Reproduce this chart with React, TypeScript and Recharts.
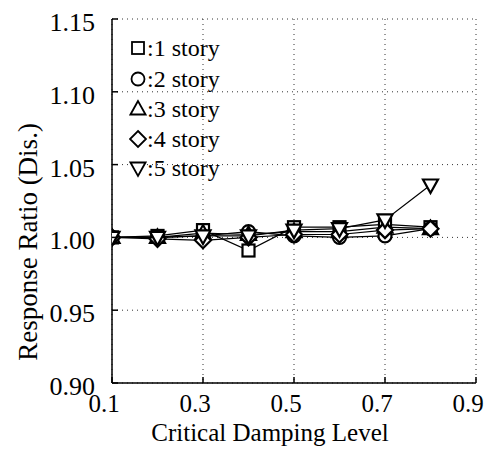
import { CartesianGrid, Label, Line, LineChart, XAxis, YAxis } from 'recharts'

// critical damping levels and response ratios
const damping = [0.1, 0.2, 0.3, 0.4, 0.5, 0.6, 0.7, 0.8]
const story1 = [1.0, 1.001, 1.005, 0.991, 1.007, 1.007, 1.009, 1.007]
const story2 = [1.0, 1.0, 1.001, 1.004, 1.001, 1.0, 1.001, 1.006]
const story3 = [1.0, 1.0, 1.003, 1.002, 1.004, 1.004, 1.007, 1.006]
const story4 = [1.0, 0.999, 0.998, 1.0, 1.002, 1.002, 1.005, 1.006]
const story5 = [1.0, 1.0, 1.001, 1.001, 1.005, 1.006, 1.012, 1.036]

const xTicks = [0.1, 0.3, 0.5, 0.7, 0.9]
const yTicks = [0.9, 0.95, 1.0, 1.05, 1.1, 1.15]
const legendNames = [':1 story', ':2 story', ':3 story', ':4 story', ':5 story']
const shapes = ['square', 'circle', 'up', 'diamond', 'down']

const data = damping.map((d, i) => ({
  d,
  s1: story1[i],
  s2: story2[i],
  s3: story3[i],
  s4: story4[i],
  s5: story5[i],
}))

const font = "'Liberation Serif', 'Times New Roman', serif"

const Marker = ({ shape, cx, cy, sw = 2.2 }: any) => {
  const st = { stroke: '#000', strokeWidth: sw, fill: '#fff' }
  if (shape === 'square') return <rect x={cx - 6} y={cy - 6} width={12} height={12} {...st} />
  if (shape === 'circle') return <circle cx={cx} cy={cy} r={6.5} {...st} />
  if (shape === 'up')
    return <polygon points={`${cx},${cy - 8} ${cx - 7.5},${cy + 5.5} ${cx + 7.5},${cy + 5.5}`} {...st} />
  if (shape === 'diamond')
    return <polygon points={`${cx},${cy - 8} ${cx + 8},${cy} ${cx},${cy + 8} ${cx - 8},${cy}`} {...st} />
  return <polygon points={`${cx - 7.5},${cy - 5.5} ${cx + 7.5},${cy - 5.5} ${cx},${cy + 8}`} {...st} />
}

const dotFor = (shape: string) => (p: any) => {
  if (p.cx == null || p.cy == null) return <g key={p.index} />
  return (
    <g key={p.index}>
      <Marker shape={shape} cx={p.cx} cy={p.cy} />
    </g>
  )
}

const BottomTick = (p: any) => (
  <g>
    <line x1={p.x} x2={p.x} y1={p.y} y2={p.y - 6} stroke="#000" strokeWidth={1.5} />
    <text x={p.x - 8} y={p.y + 29} textAnchor="middle" fontSize={25} fontFamily={font} fill="#000">
      {Number(p.payload.value).toFixed(1)}
    </text>
  </g>
)

const TopTick = (p: any) => (
  <line x1={p.x} x2={p.x} y1={p.y} y2={p.y + 6} stroke="#000" strokeWidth={1.5} />
)

const LeftTick = (p: any) => (
  <g>
    <line x1={p.x} x2={p.x + 6} y1={p.y} y2={p.y} stroke="#000" strokeWidth={1.5} />
    <text x={p.x - 17} y={p.y + 12} textAnchor="end" fontSize={26} fontFamily={font} fill="#000">
      {Number(p.payload.value).toFixed(2)}
    </text>
  </g>
)

const RightTick = (p: any) => (
  <line x1={p.x} x2={p.x - 6} y1={p.y} y2={p.y} stroke="#000" strokeWidth={1.5} />
)

const series = [
  { key: 's1', shape: 'square' },
  { key: 's2', shape: 'circle' },
  { key: 's3', shape: 'up' },
  { key: 's4', shape: 'diamond' },
  { key: 's5', shape: 'down' },
]

const rowTops = [40, 71, 101, 131, 160]

export default function App() {
  return (
    <div style={{ position: 'relative', width: 484, height: 455 }}>
      <LineChart width={484} height={455} data={data} margin={{ top: 11, right: 16, left: 0, bottom: 0 }}>
        <CartesianGrid stroke="#333" strokeDasharray="1 4" />
        <XAxis
          type="number"
          dataKey="d"
          domain={[0.1, 0.9]}
          ticks={xTicks}
          interval={0}
          height={80}
          tickSize={0}
          tickMargin={0}
          tickLine={false}
          tick={BottomTick}
          axisLine={{ stroke: '#000', strokeWidth: 1.5 }}
          allowDataOverflow
        >
          <Label
            content={() => (
              <text x={262} y={433} textAnchor="middle" fontSize={25} fontFamily={font} fill="#000">
                Critical Damping Level
              </text>
            )}
          />
        </XAxis>
        <XAxis
          xAxisId="top"
          orientation="top"
          type="number"
          dataKey="d"
          domain={[0.1, 0.9]}
          ticks={xTicks}
          interval={0}
          height={0}
          tickSize={0}
          tickMargin={0}
          tickLine={false}
          tick={TopTick}
          axisLine={{ stroke: '#000', strokeWidth: 1.5 }}
        />
        <YAxis
          type="number"
          domain={[0.9, 1.15]}
          ticks={yTicks}
          interval={0}
          width={104}
          tickSize={0}
          tickMargin={0}
          tickLine={false}
          tick={LeftTick}
          axisLine={{ stroke: '#000', strokeWidth: 1.5 }}
          allowDataOverflow
        >
          <Label
            content={() => (
              <text
                x={20}
                y={234}
                transform="rotate(-90 20 234)"
                textAnchor="middle"
                dominantBaseline="central"
                fontSize={27}
                fontFamily={font}
                fill="#000"
              >
                Response Ratio (Dis.)
              </text>
            )}
          />
        </YAxis>
        <YAxis
          yAxisId="right"
          orientation="right"
          type="number"
          domain={[0.9, 1.15]}
          ticks={yTicks}
          interval={0}
          width={0}
          tickSize={0}
          tickMargin={0}
          tickLine={false}
          tick={RightTick}
          axisLine={{ stroke: '#000', strokeWidth: 1.5 }}
        />
        {series.map((s) => (
          <Line
            key={s.key}
            type="linear"
            dataKey={s.key}
            stroke="#000"
            strokeWidth={1.2}
            dot={dotFor(s.shape)}
            activeDot={false}
            isAnimationActive={false}
          />
        ))}
      </LineChart>
      {legendNames.map((name, i) => (
        <div
          key={name}
          style={{
            position: 'absolute',
            left: 121,
            top: rowTops[i] - 15,
            height: 30,
            display: 'flex',
            alignItems: 'center',
            fontFamily: font,
            fontSize: 24,
            whiteSpace: 'nowrap',
          }}
        >
          <svg width={18} height={20}>
            <Marker shape={shapes[i]} cx={9} cy={10} sw={1.8} />
          </svg>
          <span>{name}</span>
        </div>
      ))}
    </div>
  )
}
